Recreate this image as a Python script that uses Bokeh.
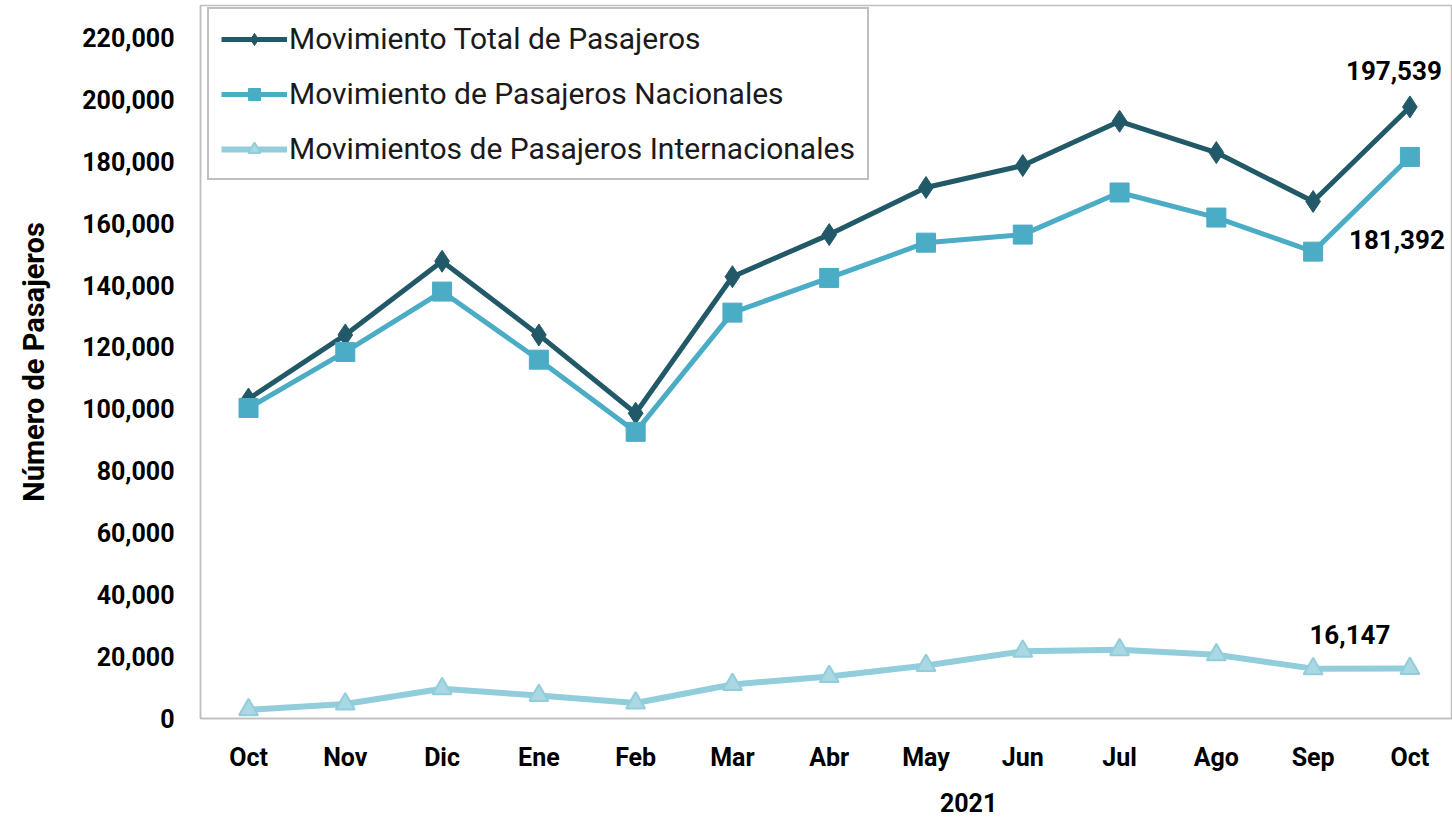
from bokeh.plotting import figure
from bokeh.models import (Range1d, FixedTicker, NumeralTickFormatter, Legend, LegendItem, Label, LinearAxis)
from bokeh.embed import file_html
from bokeh.resources import INLINE

months = ["Oct", "Nov", "Dic", "Ene", "Feb", "Mar", "Abr", "May", "Jun", "Jul", "Ago", "Sep", "Oct"]
total = [103200, 123900, 147700, 123900, 98600, 142700, 156300, 171500, 178600, 192900, 182800, 167000, 197539]
nacional = [100300, 118400, 137900, 115900, 92600, 131100, 142300, 153700, 156300, 169900, 161800, 150800, 181392]
internacional = [2800, 4700, 9600, 7400, 5000, 11000, 13600, 17100, 21700, 22200, 20600, 16100, 16147]
series_names = ["Movimiento Total de Pasajeros", "Movimiento de Pasajeros Nacionales",
                "Movimientos de Pasajeros Internacionales"]
y_ticks = list(range(0, 220001, 20000))
year = 2021

x = list(range(len(months)))

FONT = "Roboto"
c_total = "#215968"
c_nac = "#4BACC6"
c_int = "#92CDDC"
GRAY = "#BFBFBF"

X0, X1 = -0.496, 12.44
p = figure(width=1452, height=820, output_backend="svg", toolbar_location=None,
           x_range=Range1d(X0, X1), y_range=Range1d(0, 230300),
           min_border_left=200, min_border_right=0, min_border_top=5, min_border_bottom=102)

p.xgrid.grid_line_color = None
p.ygrid.grid_line_color = None
p.outline_line_color = GRAY
p.outline_line_width = 1.5

# axes
p.xaxis.ticker = FixedTicker(ticks=x)
p.xaxis.major_label_overrides = {i: m for i, m in enumerate(months)}
p.yaxis.ticker = FixedTicker(ticks=y_ticks)
p.yaxis.formatter = NumeralTickFormatter(format="0,0")
for ax in (p.xaxis, p.yaxis):
    ax.axis_line_color = GRAY
    ax.axis_line_width = 1.5
    ax.major_tick_line_color = None
    ax.minor_tick_line_color = None
    ax.major_tick_out = 0
    ax.major_tick_in = 0
    ax.major_label_text_font = FONT
    ax.major_label_text_font_style = "bold"
    ax.major_label_text_font_size = "25px"
    ax.major_label_text_color = "#000000"
p.xaxis.major_label_standoff = 24
p.yaxis.major_label_standoff = 26
p.yaxis.axis_label = "Número de Pasajeros"
p.yaxis.axis_label_text_font = FONT
p.yaxis.axis_label_text_font_style = "bold"
p.yaxis.axis_label_text_font_size = "29px"
p.yaxis.axis_label_text_color = "#000000"
p.yaxis.axis_label_standoff = 28

# year axis below month labels
yr_start = year - (7.44 - X0)
p.extra_x_ranges = {"yr": Range1d(yr_start, yr_start + (X1 - X0))}
yr_axis = LinearAxis(x_range_name="yr", ticker=FixedTicker(ticks=[year]),
                     major_label_overrides={year: str(year)})
yr_axis.axis_line_color = None
yr_axis.major_tick_line_color = None
yr_axis.minor_tick_line_color = None
yr_axis.major_tick_out = 0
yr_axis.major_tick_in = 0
yr_axis.major_label_standoff = 18
yr_axis.major_label_text_font = FONT
yr_axis.major_label_text_font_style = "bold"
yr_axis.major_label_text_font_size = "25px"
yr_axis.major_label_text_color = "#000000"
p.add_layout(yr_axis, "below")

# series
l1 = p.line(x, total, line_color=c_total, line_width=5)
m1 = p.scatter(x, total, marker="diamond", size=22, fill_color=c_total, line_color=c_total)
l2 = p.line(x, nacional, line_color=c_nac, line_width=5)
m2 = p.scatter(x, nacional, marker="square", size=19, fill_color=c_nac, line_color=c_nac)
l3 = p.line(x, internacional, line_color=c_int, line_width=6)
m3 = p.scatter(x, internacional, marker="triangle", size=19, fill_color="#A9D8E3", line_color=c_int, line_width=2)

legend = Legend(items=[
    LegendItem(label=series_names[0], renderers=[l1, m1]),
    LegendItem(label=series_names[1], renderers=[l2, m2]),
    LegendItem(label=series_names[2], renderers=[l3, m3]),
], location=(7, 538))
legend.label_text_font = FONT
legend.label_text_font_size = "30px"
legend.label_text_color = "#1a1a1a"
legend.glyph_width = 66
legend.glyph_height = 30
legend.label_height = 30
legend.spacing = 20
legend.padding = 12
legend.label_standoff = 2
legend.border_line_color = "#808080"
legend.border_line_width = 2
legend.background_fill_alpha = 1
p.add_layout(legend)

# data labels
def add_label(xv, yv, text, dx, dy):
    p.add_layout(Label(x=xv, y=yv, text=text, x_offset=dx, y_offset=dy,
                       text_align="center", text_baseline="middle",
                       text_font=FONT, text_font_style="bold", text_font_size="26px",
                       text_color="#000000"))

last = len(months) - 1
add_label(last, total[last], f"{total[last]:,}", -16, 36)
add_label(last, nacional[last], f"{nacional[last]:,}", -13, -83)
add_label(last, internacional[last], f"{internacional[last]:,}", -60, 34)

open("out.html", "w").write(file_html(p, INLINE))
